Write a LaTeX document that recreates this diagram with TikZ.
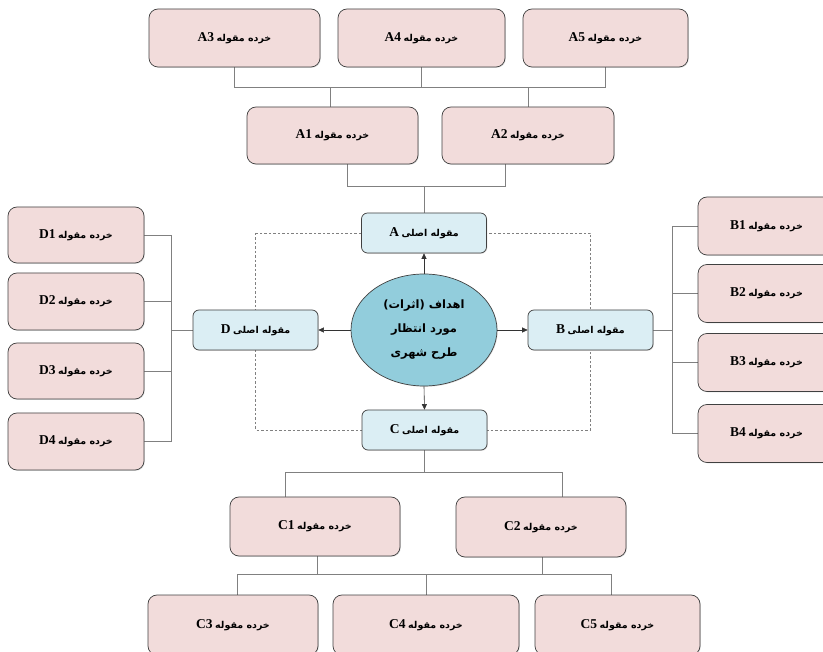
\documentclass[tikz,border=0pt]{standalone}
\usepackage{fontspec}
\setmainfont{Liberation Serif}
\newfontfamily\fa[Script=Arabic]{DejaVu Sans}
\TeXXeTstate=1
\usetikzlibrary{arrows.meta,shapes.geometric,shadows,calc}
\definecolor{subfill}{HTML}{F2DCDB}
\definecolor{mainfill}{HTML}{DBEEF4}
\definecolor{goalfill}{HTML}{92CDDC}
\definecolor{edgegray}{HTML}{404040}
\definecolor{wiregray}{HTML}{808080}
\pgfdeclarelayer{bg}
\pgfsetlayers{bg,main}
% label of a sub-category box: Latin code + Persian words
\newcommand{\sublabel}[1]{{\fontsize{13.5}{15}\selectfont\bfseries #1}\ {\fa\bfseries\fontsize{9.5}{11}\selectfont\beginR خرده مقوله\endR}}
% label of a main-category box
\newcommand{\mainlabel}[1]{{\fontsize{13.5}{15}\selectfont\bfseries #1}\ {\fa\bfseries\fontsize{9.5}{11}\selectfont\beginR مقوله اصلی\endR}}
\begin{document}
\begin{tikzpicture}[x=1pt,y=-1pt,
  box/.style={draw=edgegray, line width=0.7pt, inner sep=0pt,
    drop shadow={shadow xshift=0.8pt, shadow yshift=-0.8pt, opacity=0.25}},
  subbox/.style={box, fill=subfill, rounded corners=9pt, minimum height=58pt},
  mainbox/.style={box, fill=mainfill, rounded corners=6pt, minimum width=125pt, minimum height=40pt},
  goal/.style={box, ellipse, fill=goalfill, minimum width=146pt, minimum height=112pt, align=center,
    font=\fa\bfseries\fontsize{11.5}{24}\selectfont},
  wire/.style={draw=wiregray, line width=0.6pt},
  dashwire/.style={wire, dash pattern=on 2.5pt off 2pt},
  arrowline/.style={draw=black!80, line width=0.6pt, -{Triangle[length=5.5pt,width=5pt]}}
]
\useasboundingbox (0,0) rectangle (823,652);

% centre and main categories
\node[goal] (G) at (424,330) {\beginR اهداف (اثرات)\endR\\
  \beginR مورد انتظار\endR\\
  \beginR طرح شهری\endR};
\node[mainbox] (A) at (424,233) {\mainlabel{A}};
\node[mainbox] (B) at (590.5,330) {\mainlabel{B}};
\node[mainbox] (C) at (424.5,430) {\mainlabel{C}};
\node[mainbox] (D) at (255.5,330) {\mainlabel{D}};

% sub-categories of A
\node[subbox, minimum width=171pt] (A3) at (234.5,38) {\sublabel{A3}};
\node[subbox, minimum width=167pt] (A4) at (421.5,38) {\sublabel{A4}};
\node[subbox, minimum width=165pt] (A5) at (605.5,38) {\sublabel{A5}};
\node[subbox, minimum width=171pt, minimum height=57pt] (A1) at (332.5,135.5) {\sublabel{A1}};
\node[subbox, minimum width=172pt, minimum height=57pt] (A2) at (528,135.5) {\sublabel{A2}};

% sub-categories of B
\node[subbox, minimum width=137pt] (B1) at (766.5,226) {\sublabel{B1}};
\node[subbox, minimum width=137pt] (B2) at (766.5,293.5) {\sublabel{B2}};
\node[subbox, minimum width=137pt] (B3) at (766.5,362.5) {\sublabel{B3}};
\node[subbox, minimum width=137pt] (B4) at (766.5,433.5) {\sublabel{B4}};

% sub-categories of D
\node[subbox, minimum width=136pt, minimum height=56pt] (D1) at (76,235) {\sublabel{D1}};
\node[subbox, minimum width=136pt, minimum height=57pt] (D2) at (76,301.5) {\sublabel{D2}};
\node[subbox, minimum width=136pt, minimum height=56pt] (D3) at (76,371) {\sublabel{D3}};
\node[subbox, minimum width=136pt, minimum height=57pt] (D4) at (76,441.5) {\sublabel{D4}};

% sub-categories of C
\node[subbox, minimum width=170pt, minimum height=59pt] (C1) at (315,526.5) {\sublabel{C1}};
\node[subbox, minimum width=170pt, minimum height=60pt] (C2) at (541,527) {\sublabel{C2}};
\node[subbox, minimum width=170pt, minimum height=60pt] (C3) at (233,625) {\sublabel{C3}};
\node[subbox, minimum width=186pt, minimum height=60pt] (C4) at (426,625) {\sublabel{C4}};
\node[subbox, minimum width=165pt, minimum height=60pt] (C5) at (617.5,625) {\sublabel{C5}};

% bus lines
\coordinate (topbus) at (0,87);
\coordinate (abus) at (0,186);
\coordinate (dbus) at (171,0);
\coordinate (bbus) at (672,0);
\coordinate (cbus) at (0,472);
\coordinate (lowbus) at (0,574);

\begin{pgfonlayer}{bg}
  % dashed frame linking the main categories
  \draw[dashwire] (D.center |- A.center) rectangle (B.center |- C.center);

  % upper tree
  \draw[wire] (A3.south) -- (A3.south |- topbus) -- (A5.south |- topbus) -- (A5.south);
  \draw[wire] (A4.south) -- (A4.south |- topbus);
  \draw[wire] ([xshift=-2.5pt]A1.north) -- ([xshift=-2.5pt]A1.north |- topbus);
  \draw[wire] (A2.north) -- (A2.north |- topbus);
  \draw[wire] ([xshift=14.5pt]A1.south) -- ([xshift=14.5pt]A1.south |- abus)
     -- ([xshift=-23pt]A2.south |- abus) -- ([xshift=-23pt]A2.south);
  \draw[wire] (A.north) -- (A.north |- abus);

  % left tree
  \draw[wire] (D.west) -- (D.west -| dbus);
  \draw[wire] (D1.east) -- (D1.east -| dbus) -- (D4.east -| dbus) -- (D4.east);
  \draw[wire] (D2.east) -- (D2.east -| dbus);
  \draw[wire] (D3.east) -- (D3.east -| dbus);

  % right tree
  \draw[wire] (B.east) -- (B.east -| bbus);
  \draw[wire] (B1.west) -- (B1.west -| bbus) -- (B4.west -| bbus) -- (B4.west);
  \draw[wire] (B2.west) -- (B2.west -| bbus);
  \draw[wire] (B3.west) -- (B3.west -| bbus);

  % lower tree
  \draw[wire] (C.south) -- (C.south |- cbus);
  \draw[wire] ([xshift=-30pt]C1.north) -- ([xshift=-30pt]C1.north |- cbus)
     -- ([xshift=21pt]C2.north |- cbus) -- ([xshift=21pt]C2.north);
  \draw[wire] ([xshift=2pt]C1.south) -- ([xshift=2pt]C1.south |- lowbus);
  \draw[wire] ([xshift=1pt]C2.south) -- ([xshift=1pt]C2.south |- lowbus);
  \draw[wire] ([xshift=4pt]C3.north) -- ([xshift=4pt]C3.north |- lowbus)
     -- ([xshift=-6.5pt]C5.north |- lowbus) -- ([xshift=-6.5pt]C5.north);
  \draw[wire] (C4.north) -- (C4.north |- lowbus);
\end{pgfonlayer}

% arrows from the goals to the main categories
\draw[arrowline] (G.north) -- (A.south);
\draw[arrowline] (G.east) -- (B.west);
\draw[arrowline] (G.south) -- (C.north);
\draw[arrowline] (G.west) -- (D.west -| D.east);
\end{tikzpicture}
\end{document}
